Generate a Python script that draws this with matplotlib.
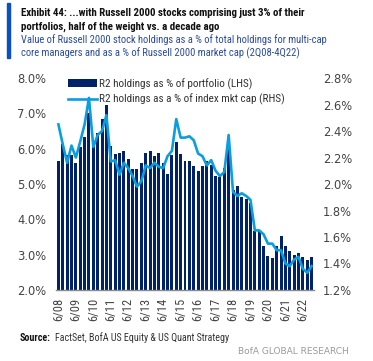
import matplotlib
matplotlib.use('Agg')
import matplotlib.pyplot as plt
from matplotlib.patches import Rectangle
from matplotlib.ticker import FuncFormatter
import numpy as np

# R2 holdings as % of portfolio (LHS), quarterly 2Q08-4Q22
portfolio_pct = [5.66, 6.14, 5.82, 5.82, 5.60, 6.06, 6.34, 7.00, 6.20, 6.45,
                 6.83, 7.24, 6.08, 5.85, 5.87, 5.92, 5.70, 5.43, 5.42, 5.59,
                 5.87, 5.92, 5.78, 5.89, 5.60, 5.29, 5.83, 6.20, 5.85, 5.64,
                 5.64, 5.52, 5.36, 5.50, 5.64, 5.55, 5.22, 5.20, 5.45, 5.98,
                 4.82, 4.93, 4.62, 4.58, 4.45, 3.66, 3.66, 3.24, 2.97, 2.91,
                 3.25, 3.54, 3.25, 3.11, 3.00, 3.05, 2.92, 2.86, 2.92]
# R2 holdings as a % of index mkt cap (RHS)
mktcap_pct = [2.45, 2.30, 2.16, 2.29, 2.20, 2.32, 2.45, 2.65, 2.28, 2.37,
              2.40, 2.52, 2.17, 2.18, 2.07, 2.16, 2.12, 2.06, 1.98, 2.02,
              2.14, 2.12, 2.16, 2.13, 2.12, 2.21, 2.25, 2.49, 2.35, 2.35,
              2.36, 2.33, 2.23, 2.21, 2.14, 2.18, 2.10, 2.06, 2.09, 2.37,
              1.94, 1.91, 1.93, 1.91, 1.88, 1.65, 1.65, 1.62, 1.55, 1.55,
              1.50, 1.50, 1.40, 1.38, 1.43, 1.45, 1.36, 1.33, 1.38]
tick_labels = ['6/08', '6/09', '6/10', '6/11', '6/12', '6/13', '6/14', '6/15',
               '6/16', '6/17', '6/18', '6/19', '6/20', '6/21', '6/22']

NAVY = '#012169'
LIGHT = '#0a9ee0'
NARROW = ['Roboto Condensed', 'Liberation Sans Narrow', 'Roboto']

W, H = 373, 361
fig = plt.figure(figsize=(W / 100, H / 100), dpi=100)

# title block
fig.patches.append(Rectangle((7 / W, 1 - 58 / H), 3.5 / W, 55 / H,
                             transform=fig.transFigure, color='#0a4fc4'))
fig.text(21 / W, 1 - 13 / H, 'Exhibit 44: ...with Russell 2000 stocks comprising just 3% of their',
         fontsize=7.8, fontweight='bold', family=NARROW, color='#111111', va='center')
fig.text(21 / W, 1 - 26.5 / H, 'portfolios, half of the weight vs. a decade ago',
         fontsize=7.8, fontweight='bold', family=NARROW, color='#111111', va='center')
fig.text(21 / W, 1 - 40 / H, 'Value of Russell 2000 stock holdings as a % of total holdings for multi-cap',
         fontsize=7.6, family=NARROW, color='#2a4b9b', va='center')
fig.text(21 / W, 1 - 53 / H, 'core managers and as a % of Russell 2000 market cap (2Q08-4Q22)',
         fontsize=7.6, family=NARROW, color='#2a4b9b', va='center')

x = np.arange(len(portfolio_pct))
ax = fig.add_axes([56 / W, 71 / H, 258 / W, 212 / H])
bars = ax.bar(x, portfolio_pct, width=0.68, color=NAVY, zorder=2)
ax.set_ylim(2, 8)
ax.set_xlim(-0.55, len(x) - 0.45)
ax.set_yticks(np.arange(2, 8.01, 1.0))
ax.yaxis.set_major_formatter(FuncFormatter(lambda v, p: '%.1f%%' % v))
ax.set_xticks(x[::4])
ax.set_xticklabels(tick_labels, rotation=90, family=NARROW, fontsize=9, color='#444444')
ax.tick_params(axis='y', length=0, pad=7, labelsize=8.3, labelcolor='#444444')
ax.tick_params(axis='x', length=0, pad=5.5)
for s in ['top', 'left', 'right']:
    ax.spines[s].set_visible(False)
ax.spines['bottom'].set_color('#8c8c8c')
ax.spines['bottom'].set_linewidth(1.0)

ax2 = ax.twinx()
line, = ax2.plot(x, mktcap_pct, color=LIGHT, lw=1.9, zorder=3)
ax2.set_ylim(1.2, 2.8)
ax2.set_yticks(np.arange(1.2, 2.81, 0.2))
ax2.yaxis.set_major_formatter(FuncFormatter(lambda v, p: '%.1f%%' % v))
ax2.tick_params(axis='y', length=0, pad=6.5, labelsize=8.3, labelcolor='#444444')
for s in ['top', 'left', 'right', 'bottom']:
    ax2.spines[s].set_visible(False)

leg = ax2.legend([bars, line],
                 ['R2 holdings as % of portfolio (LHS)',
                  'R2 holdings as a % of index mkt cap (RHS)'],
                 loc='upper left', bbox_to_anchor=(12 / 258, 1.0), frameon=False,
                 prop={'family': NARROW, 'size': 8}, handlelength=2.6,
                 handleheight=0.6, handletextpad=0.15, labelspacing=0.4,
                 borderaxespad=0, borderpad=0)
for t in leg.get_texts():
    t.set_color('#333333')

src = fig.text(20 / W, 1 - 338 / H, 'Source:', fontsize=7.2, fontweight='bold',
               family=NARROW, color='#111111', va='center')
fig.add_artist(matplotlib.text.Annotation(
    'FactSet, BofA US Equity & US Quant Strategy', xy=(1, 0.5), xycoords=src,
    xytext=(3, 0), textcoords='offset points', va='center', ha='left',
    fontsize=7.2, family=NARROW, color='#333333', annotation_clip=False))
fig.text(349 / W, 1 - 351 / H, 'BofA GLOBAL RESEARCH', fontsize=6.5,
         family=['DejaVu Sans'], color='#9a9a9a', va='center', ha='right')

fig.savefig('out.png', dpi=100)
